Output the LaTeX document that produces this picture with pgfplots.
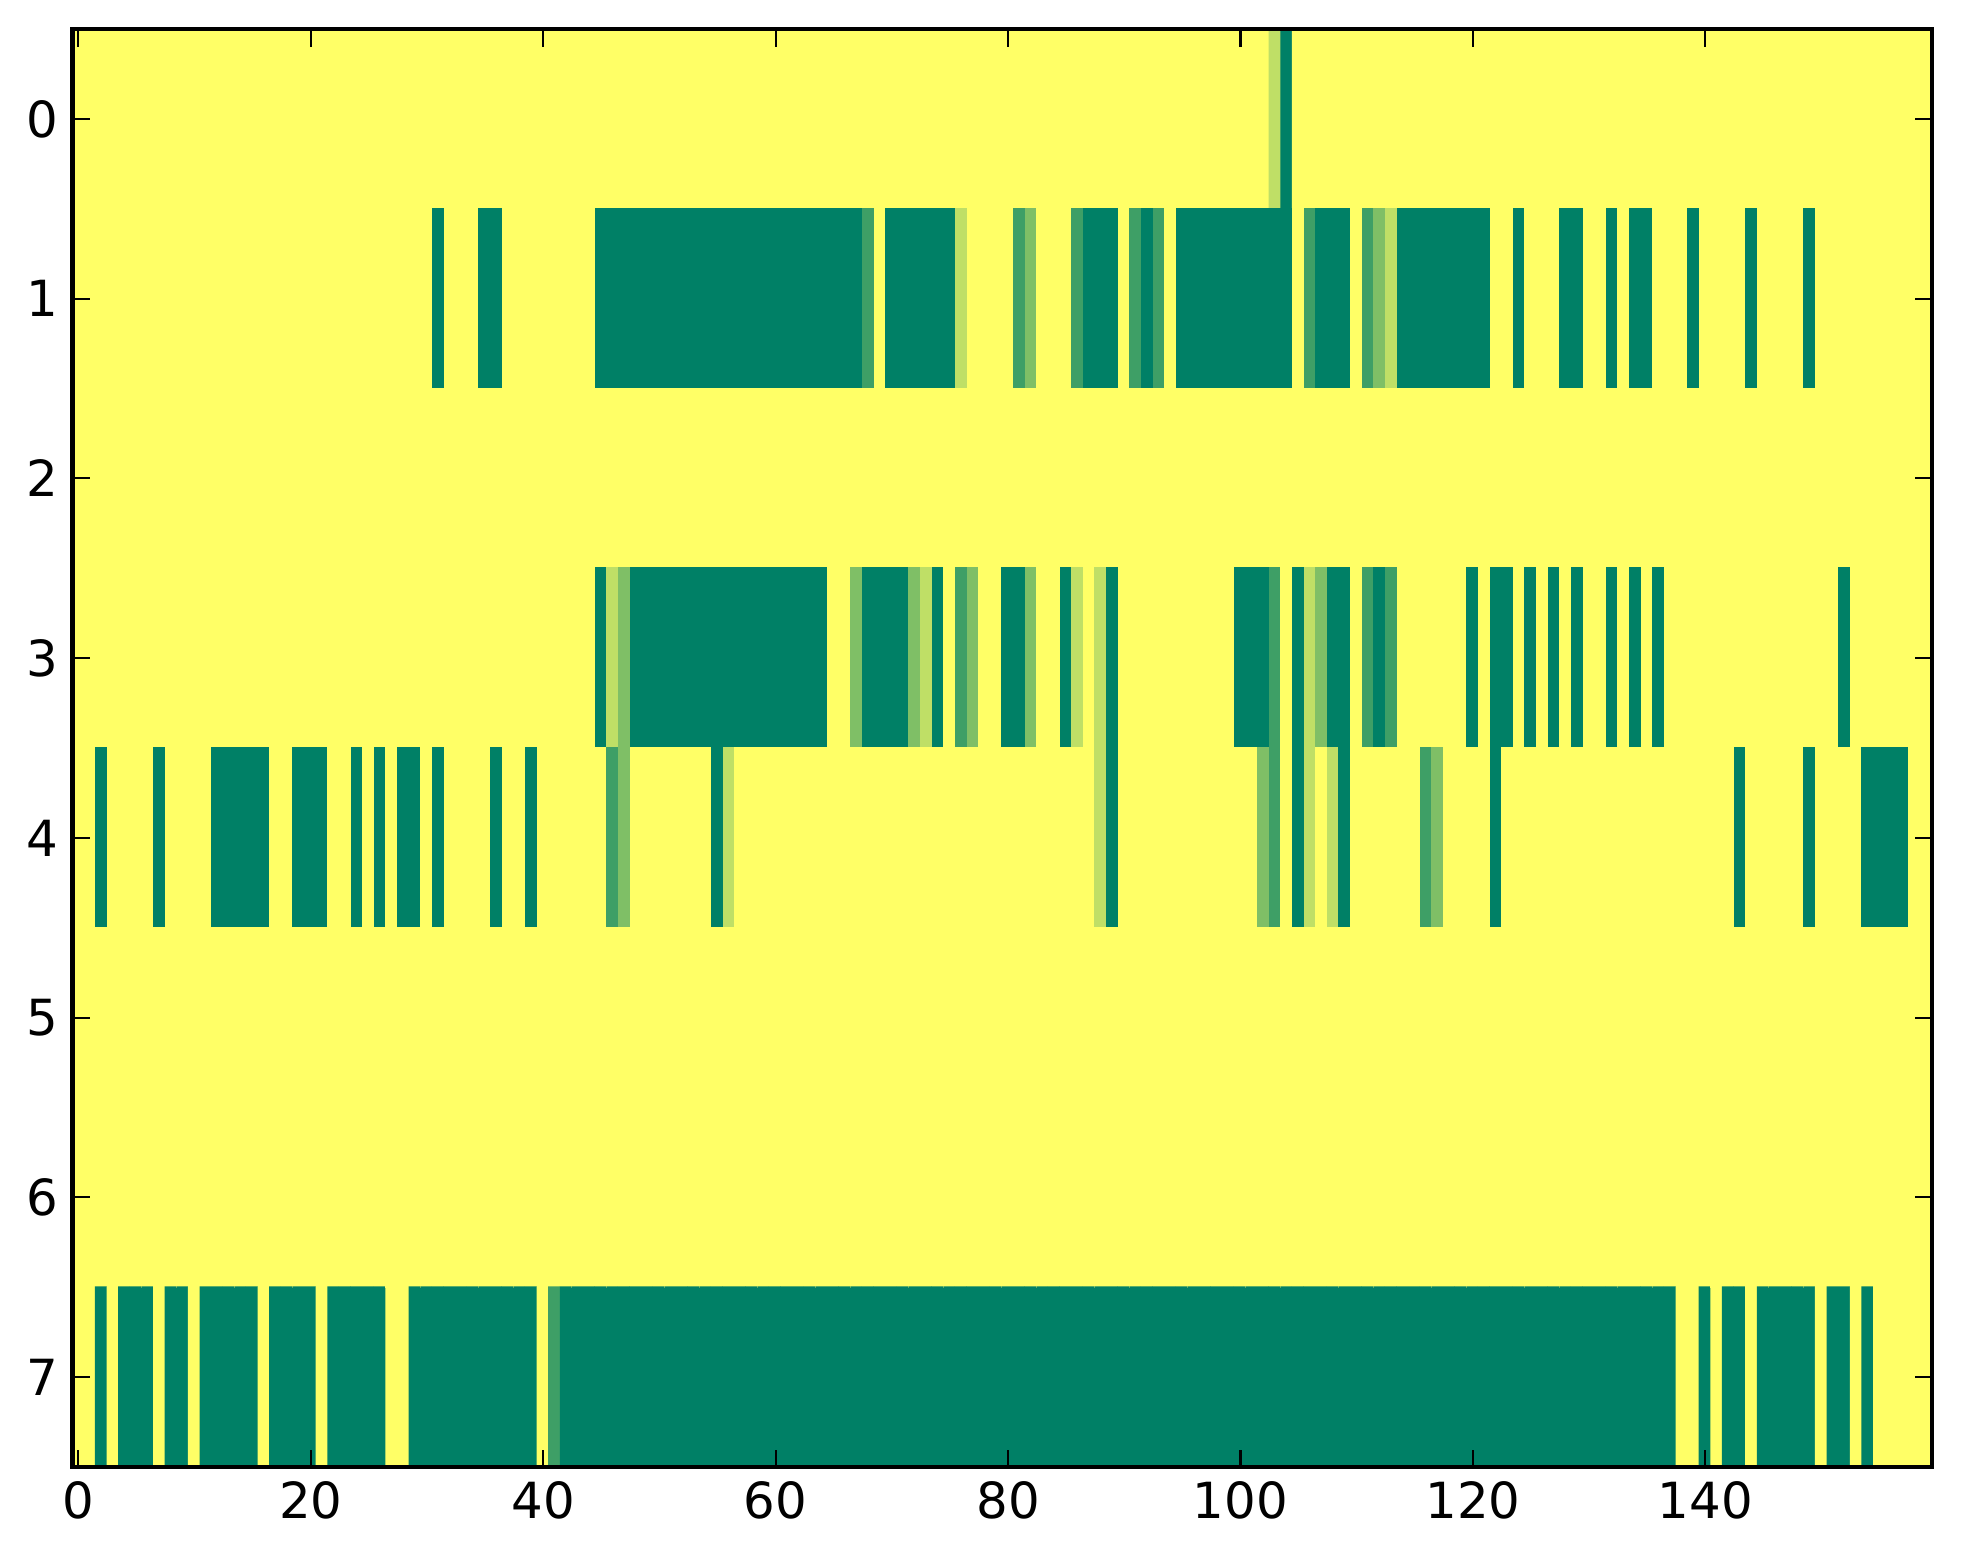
\documentclass[border=0pt]{standalone}
\usepackage{pgfplots}
\pgfplotsset{compat=1.18}
\usepackage{pgfplotstable}
\usepackage{fontspec}
\setmainfont{DejaVu Sans}
\pgfplotstableread[row sep=\\]{
x y c\\
0 0 0\\1 0 0\\2 0 0\\3 0 0\\4 0 0\\5 0 0\\6 0 0\\7 0 0\\8 0 0\\9 0 0\\
10 0 0\\11 0 0\\12 0 0\\13 0 0\\14 0 0\\15 0 0\\16 0 0\\17 0 0\\18 0 0\\19 0 0\\
20 0 0\\21 0 0\\22 0 0\\23 0 0\\24 0 0\\25 0 0\\26 0 0\\27 0 0\\28 0 0\\29 0 0\\
30 0 0\\31 0 0\\32 0 0\\33 0 0\\34 0 0\\35 0 0\\36 0 0\\37 0 0\\38 0 0\\39 0 0\\
40 0 0\\41 0 0\\42 0 0\\43 0 0\\44 0 0\\45 0 0\\46 0 0\\47 0 0\\48 0 0\\49 0 0\\
50 0 0\\51 0 0\\52 0 0\\53 0 0\\54 0 0\\55 0 0\\56 0 0\\57 0 0\\58 0 0\\59 0 0\\
60 0 0\\61 0 0\\62 0 0\\63 0 0\\64 0 0\\65 0 0\\66 0 0\\67 0 0\\68 0 0\\69 0 0\\
70 0 0\\71 0 0\\72 0 0\\73 0 0\\74 0 0\\75 0 0\\76 0 0\\77 0 0\\78 0 0\\79 0 0\\
80 0 0\\81 0 0\\82 0 0\\83 0 0\\84 0 0\\85 0 0\\86 0 0\\87 0 0\\88 0 0\\89 0 0\\
90 0 0\\91 0 0\\92 0 0\\93 0 0\\94 0 0\\95 0 0\\96 0 0\\97 0 0\\98 0 0\\99 0 0\\
100 0 0\\101 0 0\\102 0 0\\103 0 .25\\104 0 1\\105 0 0\\106 0 0\\107 0 0\\108 0 0\\109 0 0\\
110 0 0\\111 0 0\\112 0 0\\113 0 0\\114 0 0\\115 0 0\\116 0 0\\117 0 0\\118 0 0\\119 0 0\\
120 0 0\\121 0 0\\122 0 0\\123 0 0\\124 0 0\\125 0 0\\126 0 0\\127 0 0\\128 0 0\\129 0 0\\
130 0 0\\131 0 0\\132 0 0\\133 0 0\\134 0 0\\135 0 0\\136 0 0\\137 0 0\\138 0 0\\139 0 0\\
140 0 0\\141 0 0\\142 0 0\\143 0 0\\144 0 0\\145 0 0\\146 0 0\\147 0 0\\148 0 0\\149 0 0\\
150 0 0\\151 0 0\\152 0 0\\153 0 0\\154 0 0\\155 0 0\\156 0 0\\157 0 0\\158 0 0\\159 0 0\\
0 1 0\\1 1 0\\2 1 0\\3 1 0\\4 1 0\\5 1 0\\6 1 0\\7 1 0\\8 1 0\\9 1 0\\
10 1 0\\11 1 0\\12 1 0\\13 1 0\\14 1 0\\15 1 0\\16 1 0\\17 1 0\\18 1 0\\19 1 0\\
20 1 0\\21 1 0\\22 1 0\\23 1 0\\24 1 0\\25 1 0\\26 1 0\\27 1 0\\28 1 0\\29 1 0\\
30 1 0\\31 1 1\\32 1 0\\33 1 0\\34 1 0\\35 1 1\\36 1 1\\37 1 0\\38 1 0\\39 1 0\\
40 1 0\\41 1 0\\42 1 0\\43 1 0\\44 1 0\\45 1 1\\46 1 1\\47 1 1\\48 1 1\\49 1 1\\
50 1 1\\51 1 1\\52 1 1\\53 1 1\\54 1 1\\55 1 1\\56 1 1\\57 1 1\\58 1 1\\59 1 1\\
60 1 1\\61 1 1\\62 1 1\\63 1 1\\64 1 1\\65 1 1\\66 1 1\\67 1 1\\68 1 .75\\69 1 0\\
70 1 1\\71 1 1\\72 1 1\\73 1 1\\74 1 1\\75 1 1\\76 1 .25\\77 1 0\\78 1 0\\79 1 0\\
80 1 0\\81 1 .75\\82 1 .5\\83 1 0\\84 1 0\\85 1 0\\86 1 .75\\87 1 1\\88 1 1\\89 1 1\\
90 1 0\\91 1 .75\\92 1 1\\93 1 .75\\94 1 0\\95 1 1\\96 1 1\\97 1 1\\98 1 1\\99 1 1\\
100 1 1\\101 1 1\\102 1 1\\103 1 1\\104 1 1\\105 1 0\\106 1 .75\\107 1 1\\108 1 1\\109 1 1\\
110 1 0\\111 1 .75\\112 1 .5\\113 1 .25\\114 1 1\\115 1 1\\116 1 1\\117 1 1\\118 1 1\\119 1 1\\
120 1 1\\121 1 1\\122 1 0\\123 1 0\\124 1 1\\125 1 0\\126 1 0\\127 1 0\\128 1 1\\129 1 1\\
130 1 0\\131 1 0\\132 1 1\\133 1 0\\134 1 1\\135 1 1\\136 1 0\\137 1 0\\138 1 0\\139 1 1\\
140 1 0\\141 1 0\\142 1 0\\143 1 0\\144 1 1\\145 1 0\\146 1 0\\147 1 0\\148 1 0\\149 1 1\\
150 1 0\\151 1 0\\152 1 0\\153 1 0\\154 1 0\\155 1 0\\156 1 0\\157 1 0\\158 1 0\\159 1 0\\
0 2 0\\1 2 0\\2 2 0\\3 2 0\\4 2 0\\5 2 0\\6 2 0\\7 2 0\\8 2 0\\9 2 0\\
10 2 0\\11 2 0\\12 2 0\\13 2 0\\14 2 0\\15 2 0\\16 2 0\\17 2 0\\18 2 0\\19 2 0\\
20 2 0\\21 2 0\\22 2 0\\23 2 0\\24 2 0\\25 2 0\\26 2 0\\27 2 0\\28 2 0\\29 2 0\\
30 2 0\\31 2 0\\32 2 0\\33 2 0\\34 2 0\\35 2 0\\36 2 0\\37 2 0\\38 2 0\\39 2 0\\
40 2 0\\41 2 0\\42 2 0\\43 2 0\\44 2 0\\45 2 0\\46 2 0\\47 2 0\\48 2 0\\49 2 0\\
50 2 0\\51 2 0\\52 2 0\\53 2 0\\54 2 0\\55 2 0\\56 2 0\\57 2 0\\58 2 0\\59 2 0\\
60 2 0\\61 2 0\\62 2 0\\63 2 0\\64 2 0\\65 2 0\\66 2 0\\67 2 0\\68 2 0\\69 2 0\\
70 2 0\\71 2 0\\72 2 0\\73 2 0\\74 2 0\\75 2 0\\76 2 0\\77 2 0\\78 2 0\\79 2 0\\
80 2 0\\81 2 0\\82 2 0\\83 2 0\\84 2 0\\85 2 0\\86 2 0\\87 2 0\\88 2 0\\89 2 0\\
90 2 0\\91 2 0\\92 2 0\\93 2 0\\94 2 0\\95 2 0\\96 2 0\\97 2 0\\98 2 0\\99 2 0\\
100 2 0\\101 2 0\\102 2 0\\103 2 0\\104 2 0\\105 2 0\\106 2 0\\107 2 0\\108 2 0\\109 2 0\\
110 2 0\\111 2 0\\112 2 0\\113 2 0\\114 2 0\\115 2 0\\116 2 0\\117 2 0\\118 2 0\\119 2 0\\
120 2 0\\121 2 0\\122 2 0\\123 2 0\\124 2 0\\125 2 0\\126 2 0\\127 2 0\\128 2 0\\129 2 0\\
130 2 0\\131 2 0\\132 2 0\\133 2 0\\134 2 0\\135 2 0\\136 2 0\\137 2 0\\138 2 0\\139 2 0\\
140 2 0\\141 2 0\\142 2 0\\143 2 0\\144 2 0\\145 2 0\\146 2 0\\147 2 0\\148 2 0\\149 2 0\\
150 2 0\\151 2 0\\152 2 0\\153 2 0\\154 2 0\\155 2 0\\156 2 0\\157 2 0\\158 2 0\\159 2 0\\
0 3 0\\1 3 0\\2 3 0\\3 3 0\\4 3 0\\5 3 0\\6 3 0\\7 3 0\\8 3 0\\9 3 0\\
10 3 0\\11 3 0\\12 3 0\\13 3 0\\14 3 0\\15 3 0\\16 3 0\\17 3 0\\18 3 0\\19 3 0\\
20 3 0\\21 3 0\\22 3 0\\23 3 0\\24 3 0\\25 3 0\\26 3 0\\27 3 0\\28 3 0\\29 3 0\\
30 3 0\\31 3 0\\32 3 0\\33 3 0\\34 3 0\\35 3 0\\36 3 0\\37 3 0\\38 3 0\\39 3 0\\
40 3 0\\41 3 0\\42 3 0\\43 3 0\\44 3 0\\45 3 1\\46 3 .25\\47 3 .5\\48 3 1\\49 3 1\\
50 3 1\\51 3 1\\52 3 1\\53 3 1\\54 3 1\\55 3 1\\56 3 1\\57 3 1\\58 3 1\\59 3 1\\
60 3 1\\61 3 1\\62 3 1\\63 3 1\\64 3 1\\65 3 0\\66 3 0\\67 3 .5\\68 3 1\\69 3 1\\
70 3 1\\71 3 1\\72 3 .5\\73 3 .25\\74 3 1\\75 3 0\\76 3 .75\\77 3 .5\\78 3 0\\79 3 0\\
80 3 1\\81 3 1\\82 3 .5\\83 3 0\\84 3 0\\85 3 1\\86 3 .25\\87 3 0\\88 3 .25\\89 3 1\\
90 3 0\\91 3 0\\92 3 0\\93 3 0\\94 3 0\\95 3 0\\96 3 0\\97 3 0\\98 3 0\\99 3 0\\
100 3 1\\101 3 1\\102 3 1\\103 3 .75\\104 3 0\\105 3 1\\106 3 .25\\107 3 .5\\108 3 1\\109 3 1\\
110 3 0\\111 3 .75\\112 3 1\\113 3 .75\\114 3 0\\115 3 0\\116 3 0\\117 3 0\\118 3 0\\119 3 0\\
120 3 1\\121 3 0\\122 3 1\\123 3 1\\124 3 0\\125 3 1\\126 3 0\\127 3 1\\128 3 0\\129 3 1\\
130 3 0\\131 3 0\\132 3 1\\133 3 0\\134 3 1\\135 3 0\\136 3 1\\137 3 0\\138 3 0\\139 3 0\\
140 3 0\\141 3 0\\142 3 0\\143 3 0\\144 3 0\\145 3 0\\146 3 0\\147 3 0\\148 3 0\\149 3 0\\
150 3 0\\151 3 0\\152 3 1\\153 3 0\\154 3 0\\155 3 0\\156 3 0\\157 3 0\\158 3 0\\159 3 0\\
0 4 0\\1 4 0\\2 4 1\\3 4 0\\4 4 0\\5 4 0\\6 4 0\\7 4 1\\8 4 0\\9 4 0\\
10 4 0\\11 4 0\\12 4 1\\13 4 1\\14 4 1\\15 4 1\\16 4 1\\17 4 0\\18 4 0\\19 4 1\\
20 4 1\\21 4 1\\22 4 0\\23 4 0\\24 4 1\\25 4 0\\26 4 1\\27 4 0\\28 4 1\\29 4 1\\
30 4 0\\31 4 1\\32 4 0\\33 4 0\\34 4 0\\35 4 0\\36 4 1\\37 4 0\\38 4 0\\39 4 1\\
40 4 0\\41 4 0\\42 4 0\\43 4 0\\44 4 0\\45 4 0\\46 4 .75\\47 4 .5\\48 4 0\\49 4 0\\
50 4 0\\51 4 0\\52 4 0\\53 4 0\\54 4 0\\55 4 1\\56 4 .25\\57 4 0\\58 4 0\\59 4 0\\
60 4 0\\61 4 0\\62 4 0\\63 4 0\\64 4 0\\65 4 0\\66 4 0\\67 4 0\\68 4 0\\69 4 0\\
70 4 0\\71 4 0\\72 4 0\\73 4 0\\74 4 0\\75 4 0\\76 4 0\\77 4 0\\78 4 0\\79 4 0\\
80 4 0\\81 4 0\\82 4 0\\83 4 0\\84 4 0\\85 4 0\\86 4 0\\87 4 0\\88 4 .25\\89 4 1\\
90 4 0\\91 4 0\\92 4 0\\93 4 0\\94 4 0\\95 4 0\\96 4 0\\97 4 0\\98 4 0\\99 4 0\\
100 4 0\\101 4 0\\102 4 .5\\103 4 .75\\104 4 0\\105 4 1\\106 4 .25\\107 4 0\\108 4 .25\\109 4 1\\
110 4 0\\111 4 0\\112 4 0\\113 4 0\\114 4 0\\115 4 0\\116 4 .75\\117 4 .5\\118 4 0\\119 4 0\\
120 4 0\\121 4 0\\122 4 1\\123 4 0\\124 4 0\\125 4 0\\126 4 0\\127 4 0\\128 4 0\\129 4 0\\
130 4 0\\131 4 0\\132 4 0\\133 4 0\\134 4 0\\135 4 0\\136 4 0\\137 4 0\\138 4 0\\139 4 0\\
140 4 0\\141 4 0\\142 4 0\\143 4 1\\144 4 0\\145 4 0\\146 4 0\\147 4 0\\148 4 0\\149 4 1\\
150 4 0\\151 4 0\\152 4 0\\153 4 0\\154 4 1\\155 4 1\\156 4 1\\157 4 1\\158 4 0\\159 4 0\\
0 5 0\\1 5 0\\2 5 0\\3 5 0\\4 5 0\\5 5 0\\6 5 0\\7 5 0\\8 5 0\\9 5 0\\
10 5 0\\11 5 0\\12 5 0\\13 5 0\\14 5 0\\15 5 0\\16 5 0\\17 5 0\\18 5 0\\19 5 0\\
20 5 0\\21 5 0\\22 5 0\\23 5 0\\24 5 0\\25 5 0\\26 5 0\\27 5 0\\28 5 0\\29 5 0\\
30 5 0\\31 5 0\\32 5 0\\33 5 0\\34 5 0\\35 5 0\\36 5 0\\37 5 0\\38 5 0\\39 5 0\\
40 5 0\\41 5 0\\42 5 0\\43 5 0\\44 5 0\\45 5 0\\46 5 0\\47 5 0\\48 5 0\\49 5 0\\
50 5 0\\51 5 0\\52 5 0\\53 5 0\\54 5 0\\55 5 0\\56 5 0\\57 5 0\\58 5 0\\59 5 0\\
60 5 0\\61 5 0\\62 5 0\\63 5 0\\64 5 0\\65 5 0\\66 5 0\\67 5 0\\68 5 0\\69 5 0\\
70 5 0\\71 5 0\\72 5 0\\73 5 0\\74 5 0\\75 5 0\\76 5 0\\77 5 0\\78 5 0\\79 5 0\\
80 5 0\\81 5 0\\82 5 0\\83 5 0\\84 5 0\\85 5 0\\86 5 0\\87 5 0\\88 5 0\\89 5 0\\
90 5 0\\91 5 0\\92 5 0\\93 5 0\\94 5 0\\95 5 0\\96 5 0\\97 5 0\\98 5 0\\99 5 0\\
100 5 0\\101 5 0\\102 5 0\\103 5 0\\104 5 0\\105 5 0\\106 5 0\\107 5 0\\108 5 0\\109 5 0\\
110 5 0\\111 5 0\\112 5 0\\113 5 0\\114 5 0\\115 5 0\\116 5 0\\117 5 0\\118 5 0\\119 5 0\\
120 5 0\\121 5 0\\122 5 0\\123 5 0\\124 5 0\\125 5 0\\126 5 0\\127 5 0\\128 5 0\\129 5 0\\
130 5 0\\131 5 0\\132 5 0\\133 5 0\\134 5 0\\135 5 0\\136 5 0\\137 5 0\\138 5 0\\139 5 0\\
140 5 0\\141 5 0\\142 5 0\\143 5 0\\144 5 0\\145 5 0\\146 5 0\\147 5 0\\148 5 0\\149 5 0\\
150 5 0\\151 5 0\\152 5 0\\153 5 0\\154 5 0\\155 5 0\\156 5 0\\157 5 0\\158 5 0\\159 5 0\\
0 6 0\\1 6 0\\2 6 0\\3 6 0\\4 6 0\\5 6 0\\6 6 0\\7 6 0\\8 6 0\\9 6 0\\
10 6 0\\11 6 0\\12 6 0\\13 6 0\\14 6 0\\15 6 0\\16 6 0\\17 6 0\\18 6 0\\19 6 0\\
20 6 0\\21 6 0\\22 6 0\\23 6 0\\24 6 0\\25 6 0\\26 6 0\\27 6 0\\28 6 0\\29 6 0\\
30 6 0\\31 6 0\\32 6 0\\33 6 0\\34 6 0\\35 6 0\\36 6 0\\37 6 0\\38 6 0\\39 6 0\\
40 6 0\\41 6 0\\42 6 0\\43 6 0\\44 6 0\\45 6 0\\46 6 0\\47 6 0\\48 6 0\\49 6 0\\
50 6 0\\51 6 0\\52 6 0\\53 6 0\\54 6 0\\55 6 0\\56 6 0\\57 6 0\\58 6 0\\59 6 0\\
60 6 0\\61 6 0\\62 6 0\\63 6 0\\64 6 0\\65 6 0\\66 6 0\\67 6 0\\68 6 0\\69 6 0\\
70 6 0\\71 6 0\\72 6 0\\73 6 0\\74 6 0\\75 6 0\\76 6 0\\77 6 0\\78 6 0\\79 6 0\\
80 6 0\\81 6 0\\82 6 0\\83 6 0\\84 6 0\\85 6 0\\86 6 0\\87 6 0\\88 6 0\\89 6 0\\
90 6 0\\91 6 0\\92 6 0\\93 6 0\\94 6 0\\95 6 0\\96 6 0\\97 6 0\\98 6 0\\99 6 0\\
100 6 0\\101 6 0\\102 6 0\\103 6 0\\104 6 0\\105 6 0\\106 6 0\\107 6 0\\108 6 0\\109 6 0\\
110 6 0\\111 6 0\\112 6 0\\113 6 0\\114 6 0\\115 6 0\\116 6 0\\117 6 0\\118 6 0\\119 6 0\\
120 6 0\\121 6 0\\122 6 0\\123 6 0\\124 6 0\\125 6 0\\126 6 0\\127 6 0\\128 6 0\\129 6 0\\
130 6 0\\131 6 0\\132 6 0\\133 6 0\\134 6 0\\135 6 0\\136 6 0\\137 6 0\\138 6 0\\139 6 0\\
140 6 0\\141 6 0\\142 6 0\\143 6 0\\144 6 0\\145 6 0\\146 6 0\\147 6 0\\148 6 0\\149 6 0\\
150 6 0\\151 6 0\\152 6 0\\153 6 0\\154 6 0\\155 6 0\\156 6 0\\157 6 0\\158 6 0\\159 6 0\\
0 7 0\\1 7 0\\2 7 1\\3 7 0\\4 7 1\\5 7 1\\6 7 1\\7 7 0\\8 7 1\\9 7 1\\
10 7 0\\11 7 1\\12 7 1\\13 7 1\\14 7 1\\15 7 1\\16 7 0\\17 7 1\\18 7 1\\19 7 1\\
20 7 1\\21 7 0\\22 7 1\\23 7 1\\24 7 1\\25 7 1\\26 7 1\\27 7 0\\28 7 0\\29 7 1\\
30 7 1\\31 7 1\\32 7 1\\33 7 1\\34 7 1\\35 7 1\\36 7 1\\37 7 1\\38 7 1\\39 7 1\\
40 7 0\\41 7 .75\\42 7 1\\43 7 1\\44 7 1\\45 7 1\\46 7 1\\47 7 1\\48 7 1\\49 7 1\\
50 7 1\\51 7 1\\52 7 1\\53 7 1\\54 7 1\\55 7 1\\56 7 1\\57 7 1\\58 7 1\\59 7 1\\
60 7 1\\61 7 1\\62 7 1\\63 7 1\\64 7 1\\65 7 1\\66 7 1\\67 7 1\\68 7 1\\69 7 1\\
70 7 1\\71 7 1\\72 7 1\\73 7 1\\74 7 1\\75 7 1\\76 7 1\\77 7 1\\78 7 1\\79 7 1\\
80 7 1\\81 7 1\\82 7 1\\83 7 1\\84 7 1\\85 7 1\\86 7 1\\87 7 1\\88 7 1\\89 7 1\\
90 7 1\\91 7 1\\92 7 1\\93 7 1\\94 7 1\\95 7 1\\96 7 1\\97 7 1\\98 7 1\\99 7 1\\
100 7 1\\101 7 1\\102 7 1\\103 7 1\\104 7 1\\105 7 1\\106 7 1\\107 7 1\\108 7 1\\109 7 1\\
110 7 1\\111 7 1\\112 7 1\\113 7 1\\114 7 1\\115 7 1\\116 7 1\\117 7 1\\118 7 1\\119 7 1\\
120 7 1\\121 7 1\\122 7 1\\123 7 1\\124 7 1\\125 7 1\\126 7 1\\127 7 1\\128 7 1\\129 7 1\\
130 7 1\\131 7 1\\132 7 1\\133 7 1\\134 7 1\\135 7 1\\136 7 1\\137 7 1\\138 7 0\\139 7 0\\
140 7 1\\141 7 0\\142 7 1\\143 7 1\\144 7 0\\145 7 1\\146 7 1\\147 7 1\\148 7 1\\149 7 1\\
150 7 0\\151 7 1\\152 7 1\\153 7 0\\154 7 1\\155 7 0\\156 7 0\\157 7 0\\158 7 0\\159 7 0\\
}\heat
\begin{document}
\begin{tikzpicture}
\useasboundingbox (-17.4bp,-23.28bp) rectangle (453.72bp,352.08bp);
\begin{axis}[
  at={(0,0)}, anchor=south west,
  scale only axis,
  width=446.28bp, height=345.12bp,
  xmin=-0.5, xmax=159.5, ymin=-0.5, ymax=7.5,
  y dir=reverse,
  xtick={0,20,...,140}, ytick={0,1,...,7},
  tick align=inside,
  major tick length=4.2bp,
  every tick/.style={black, line width=0.5bp},
  axis line style={black, line width=1bp},
  ticklabel style={font=\fontsize{12}{14}\selectfont},
  /pgf/number format/assume math mode=true,
  colormap={summerr}{rgb=(1,1,0.4) rgb=(0,0.5,0.4)},
  point meta min=0, point meta max=1,
  axis on top,
]
\addplot[matrix plot*, mesh/cols=160, point meta=explicit] table[x=x, y=y, meta=c] {\heat};
\addplot[matrix plot*, mesh/cols=160, point meta=explicit] table[x=x, y=y, meta=c] {\heat};
\end{axis}
\end{tikzpicture}
\end{document}
